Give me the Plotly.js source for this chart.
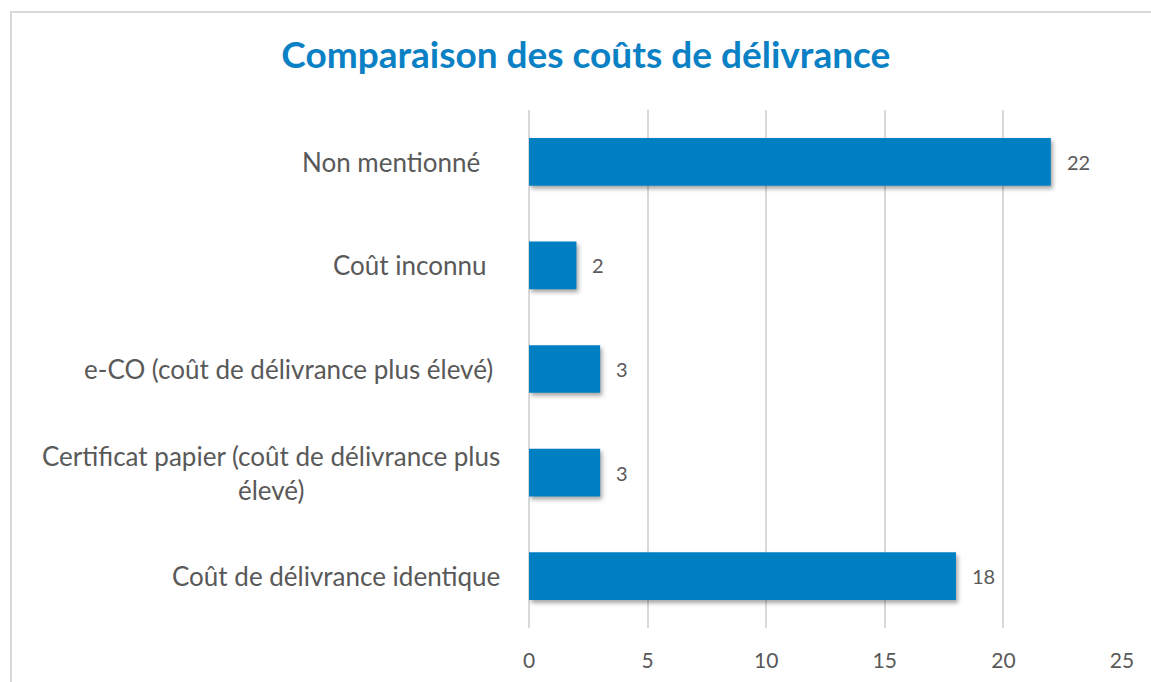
<!DOCTYPE html>
<html>
<head>
<meta charset="utf-8">
<script src="https://cdn.plot.ly/plotly-3.0.1.min.js"></script>
<style>
  html, body { margin: 0; padding: 0; background: #fff; overflow: hidden; }
  #frame {
    position: absolute; left: 10px; top: 11px;
    width: 1200px; height: 720px;
    border: 2px solid #d9d9d9; pointer-events: none;
  }
  #chart { position: absolute; left: 0; top: 0; width: 1151px; height: 682px; }
  #chart .trace.bars .point path { filter: drop-shadow(2px 3px 2px rgba(0, 0, 0, 0.35)); }
</style>
</head>
<body>
<div id="frame"></div>
<div id="chart"></div>
<script>
// source labels carry trailing spaces (kept as nbsp so they are not collapsed)
const categories = [
  "Non mentionné\u00a0\u00a0\u00a0",
  "Coût inconnu\u00a0\u00a0",
  "e-CO (coût de délivrance plus élevé)\u00a0",
  "Certificat papier (coût de délivrance plus<br>élevé)",
  "Coût de délivrance identique",
];
const counts = [22, 2, 3, 3, 18];
const xTicks = [0, 5, 10, 15, 20, 25];

const barColor = "#0080c3";
const textColor = "#595959";

// category labels as annotations so the wrapped one stays centred
const labelAnnotations = categories.map((cat) => ({
  x: 0,
  y: cat,
  xref: "paper",
  yref: "y",
  xanchor: "right",
  yanchor: "middle",
  xshift: -27,
  align: "center",
  showarrow: false,
  text: cat,
  font: { family: "Lato", size: 26, color: textColor },
}));

// value labels sit a bit further from the bar end than plotly's outside text
const valueAnnotations = categories.map((cat, i) => ({
  x: counts[i],
  y: cat,
  xref: "x",
  yref: "y",
  xanchor: "left",
  yanchor: "middle",
  xshift: 14,
  showarrow: false,
  text: String(counts[i]),
  font: { family: "Lato", size: 20, color: textColor },
}));

Plotly.newPlot(
  "chart",
  [
    {
      type: "bar",
      orientation: "h",
      x: counts,
      y: categories,
      marker: { color: barColor },
      hoverinfo: "skip",
    },
  ],
  {
    width: 1151,
    height: 682,
    paper_bgcolor: "rgba(0,0,0,0)",
    plot_bgcolor: "rgba(0,0,0,0)",
    font: { family: "Lato", color: textColor },
    margin: { l: 529, r: 29, t: 110, b: 54 },
    bargap: 0.54,
    showlegend: false,
    title: {
      text: "<b>Comparaison des coûts de délivrance</b>",
      font: { family: "Lato", size: 37, color: "#0a81c4" },
      x: 0.509,
      xanchor: "center",
      y: 0.919,
      yanchor: "middle",
      yref: "container",
    },
    xaxis: {
      range: [0, 25],
      tickvals: xTicks,
      ticktext: xTicks.map(String),
      showgrid: true,
      gridcolor: "#d9d9d9",
      gridwidth: 2,
      zeroline: true,
      zerolinecolor: "#d9d9d9",
      zerolinewidth: 2,
      showline: false,
      ticks: "",
      ticklabelstandoff: 18,
      tickfont: { family: "Lato", size: 21, color: textColor },
      fixedrange: true,
    },
    yaxis: {
      type: "category",
      autorange: "reversed",
      showticklabels: false,
      showgrid: false,
      showline: false,
      ticks: "",
      fixedrange: true,
    },
    annotations: [...labelAnnotations, ...valueAnnotations],
  },
  { displayModeBar: false, staticPlot: true },
);
</script>
</body>
</html>
